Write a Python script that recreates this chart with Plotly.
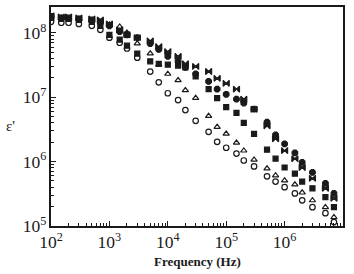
import plotly.graph_objects as go

freq = [100, 150, 200, 300, 500, 700, 1e3, 1.5e3, 2e3, 3e3, 5e3, 7e3, 1e4, 1.5e4, 2e4,
        3e4, 5e4, 7e4, 1e5, 1.5e5, 2e5, 3e5, 5e5, 7e5, 1e6, 1.5e6, 2e6, 3e6, 5e6, 7e6]

eps_circle = [1.48e8, 1.43e8, 1.43e8, 1.37e8, 1.28e8, 1.11e8, 8.4e7, 7.0e7, 5.7e7, 4.1e7,
              2.5e7, 1.7e7, 1.15e7, 9.0e6, 6.3e6, 4.3e6, 2.9e6, 2.03e6, 1.64e6, 1.33e6,
              1.04e6, 8.4e5, 5.9e5, 4.9e5, 4.0e5, 3.2e5, 2.5e5, 1.96e5, 1.58e5, 1.15e5]
eps_triangle = [1.64e8, 1.70e8, 1.64e8, 1.64e8, 1.53e8, 1.43e8, 1.33e8, 1.24e8, 1.0e8, 6.8e7,
                4.75e7, 3.2e7, 2.3e7, 1.83e7, 1.28e7, 9.7e6, 5.1e6, 3.45e6, 2.7e6, 1.96e6,
                1.48e6, 1.07e6, 7.8e5, 6.1e5, 5.1e5, 4.4e5, 3.3e5, 2.5e5, 1.96e5, 1.37e5]
eps_square = [1.70e8, 1.64e8, 1.64e8, 1.58e8, 1.48e8, 1.28e8, 9.3e7, 7.8e7, 6.3e7, 4.75e7,
              3.6e7, 3.3e7, 3.2e7, 3.1e7, 2.9e7, 2.1e7, 1.33e7, 9.7e6, 7.0e6, 5.7e6,
              4.0e6, 2.7e6, 1.53e6, 1.11e6, 8.1e5, 6.5e5, 4.9e5, 3.85e5, 2.8e5, 1.96e5]
eps_bowtie = [1.83e8, 1.76e8, 1.76e8, 1.70e8, 1.64e8, 1.58e8, 1.37e8, 1.11e8, 9.3e7, 8.4e7,
              7.5e7, 6.1e7, 5.1e7, 4.3e7, 3.3e7, 3.0e7, 2.5e7, 1.96e7, 1.64e7, 1.33e7,
              9.3e6, 6.5e6, 3.6e6, 2.26e6, 1.48e6, 1.11e6, 8.1e5, 5.5e5, 3.85e5, 2.7e5]
eps_hexagon = [1.76e8, 1.70e8, 1.70e8, 1.64e8, 1.58e8, 1.48e8, 1.28e8, 1.04e8, 9.3e7, 8.4e7,
               6.8e7, 5.5e7, 4.3e7, 3.6e7, 2.9e7, 2.3e7, 1.76e7, 1.33e7, 1.11e7, 9.3e6,
               8.1e6, 6.5e6, 4.1e6, 2.6e6, 1.89e6, 1.37e6, 9.7e5, 6.8e5, 4.6e5, 3.2e5]

INK = "#1a1a1a"
FONT = "Liberation Serif"

series = [
    (eps_circle, "circle-open", 5.5),
    (eps_triangle, "triangle-up-open", 5.5),
    (eps_square, "square", 5),
    (eps_bowtie, "bowtie", 6),
    (eps_hexagon, "octagon", 6),
]

fig = go.Figure()
for vals, sym, size in series:
    fig.add_trace(go.Scatter(
        x=freq, y=vals, mode="markers",
        marker=dict(symbol=sym, size=size, color=INK, line=dict(color=INK, width=1.2)),
        showlegend=False,
    ))

axis_common = dict(
    type="log", showgrid=False, zeroline=False,
    showline=True, linecolor=INK, linewidth=1.5, mirror=True,
    ticks="inside", ticklen=5, tickwidth=1, tickcolor=INK,
    dtick=1, exponentformat="power", showexponent="all",
    tickfont=dict(family=FONT, size=14, color=INK),
    minor=dict(ticks="inside", ticklen=3, tickwidth=1, tickcolor=INK, showgrid=False),
)

fig.update_xaxes(range=[2, 7], **axis_common)
fig.update_yaxes(range=[5, 8.4], **axis_common)

fig.update_layout(
    width=354, height=274,
    margin=dict(l=51, r=11, t=5, b=48),
    paper_bgcolor="white", plot_bgcolor="white",
    annotations=[
        dict(text="<b>Frequency (Hz)</b>", xref="paper", yref="paper", x=0.5, y=-0.163,
             xanchor="center", yanchor="middle", showarrow=False,
             font=dict(family=FONT, size=13, color=INK)),
        dict(text="ε'", xref="paper", yref="paper", x=-0.14, y=0.457,
             xanchor="center", yanchor="middle", showarrow=False,
             font=dict(family=FONT, size=15, color=INK)),
    ],
)

fig.write_html("out.html", config={"displayModeBar": False},
               post_script="document.body.style.margin='0';")
